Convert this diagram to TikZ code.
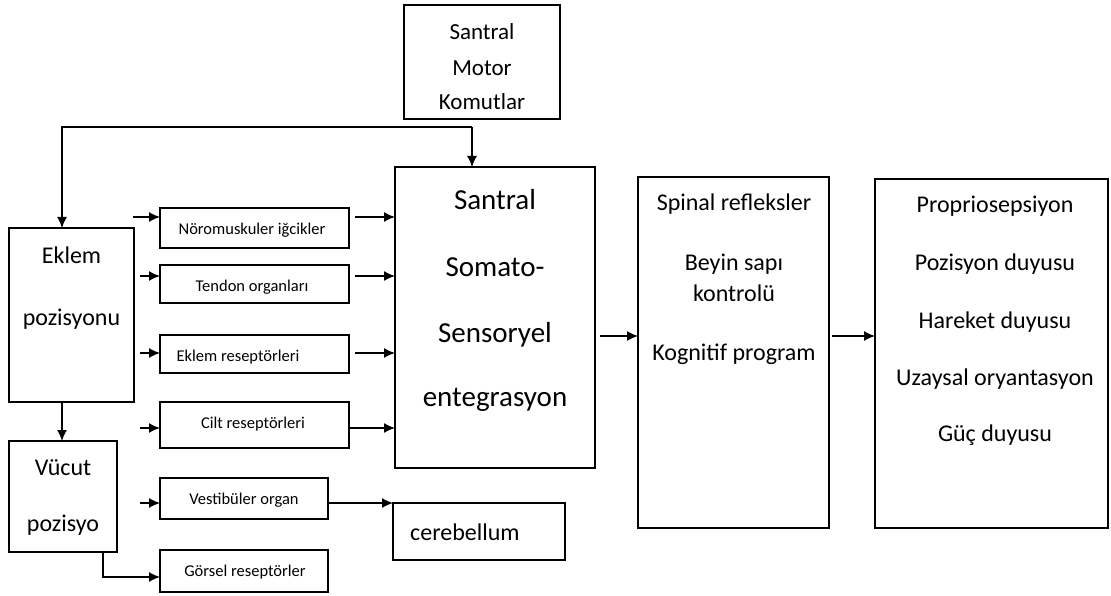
\documentclass[tikz,border=0pt]{standalone}
\usepackage{fontspec}
\setmainfont{Carlito}
\usetikzlibrary{arrows.meta}
\begin{document}
\begin{tikzpicture}[x=1pt,y=-1pt,
  box/.style={draw, line width=1.3pt, inner sep=0pt, outer sep=0pt},
  arr/.style={line width=1.3pt, -{Latex[length=11pt,width=10pt]}},
  sm/.style={inner sep=0pt, text height=10.7pt, text depth=2.5pt, font=\fontsize{16.5}{19}\selectfont, yshift=-2pt},
  md/.style={inner sep=0pt, text height=15pt, text depth=3.4pt, font=\fontsize{23}{27}\selectfont, yshift=-2pt},
  lg/.style={inner sep=0pt, text height=15.6pt, text depth=3.6pt, font=\fontsize{24}{28}\selectfont, yshift=-2pt},
  xl/.style={inner sep=0pt, text height=18.8pt, text depth=4.3pt, font=\fontsize{29}{33}\selectfont, yshift=-2pt}]
\useasboundingbox (0,0) rectangle (1111,596);
% boxes
\node[box, minimum width=156, minimum height=114] (motor) at (482,62) {};
\node[box, minimum width=200, minimum height=301] (central) at (495,317.5) {};
\node[box, minimum width=191, minimum height=351] (spinal) at (733.5,352.5) {};
\node[box, minimum width=233, minimum height=349] (proprio) at (991.5,353.5) {};
\node[box, minimum width=125, minimum height=174] (eklem) at (71.5,315) {};
\node[box, minimum width=108, minimum height=111] (vucut) at (63,496.5) {};
\node[box, minimum width=189, minimum height=40] (noro) at (254.5,228) {};
\node[box, minimum width=189, minimum height=38] (tendon) at (254.5,284) {};
\node[box, minimum width=189, minimum height=38] (eklemrec) at (254.5,354) {};
\node[box, minimum width=189, minimum height=46] (cilt) at (254.5,425) {};
\node[box, minimum width=168, minimum height=41] (vestib) at (244,498.5) {};
\node[box, minimum width=168, minimum height=42] (gorsel) at (244,571) {};
\node[box, minimum width=172, minimum height=57] (cereb) at (479,531.5) {};
% texts
\node[md] (t1) at (482,32) {Santral};
\node[md] (t2) at (482,68) {Motor};
\node[md] (t3) at (482,102) {Komutlar};
\node[xl] (c1) at (495,200) {Santral};
\node[xl] (c2) at (495,267) {Somato-};
\node[xl] (c3) at (495,333) {Sensoryel};
\node[xl] (c4) at (495,397) {entegrasyon};
\node[lg] (s1) at (734,203) {Spinal refleksler};
\node[lg] (s2) at (734,262) {Beyin sapı};
\node[lg] (s3) at (734,293) {kontrolü};
\node[lg] (s4) at (734,352) {Kognitif program};
\node[lg] (p1) at (995,205) {Propriosepsiyon};
\node[lg] (p2) at (995,262) {Pozisyon duyusu};
\node[lg] (p3) at (995,320) {Hareket duyusu};
\node[lg] (p4) at (995,377) {Uzaysal oryantasyon};
\node[lg] (p5) at (995,433) {Güç duyusu};
\node[lg] (e1) at (71.5,255) {Eklem};
\node[lg] (e2) at (71.5,317) {pozisyonu};
\node[lg] (v1) at (63,467) {Vücut};
\node[lg] (v2) at (63,523) {pozisyo};
\node[sm] (n1) at (252,228) {Nöromuskuler iğcikler};
\node[sm] (n2) at (252,285) {Tendon organları};
\node[sm] (n3) at (238,355) {Eklem reseptörleri};
\node[sm] (n4) at (253,422) {Cilt reseptörleri};
\node[sm] (n5) at (244,498) {Vestibüler organ};
\node[sm] (n6) at (245,570) {Görsel reseptörler};
\node[lg, anchor=west] (cb) at (410,532) {cerebellum};
% connectors
\coordinate (fbL) at (62,127);
\coordinate (fbR) at (472,127);
\draw[arr] (fbR) -- (fbL) -- (fbL |- eklem.north);
\draw[arr] (fbR) -- (fbR |- central.north);
\draw[arr] (fbL |- eklem.south) -- (fbL |- vucut.north);
\coordinate (in1) at (133,217);
\coordinate (in2) at (140,276);
\coordinate (in3) at (140,353);
\coordinate (in4) at (140,428);
\coordinate (in5) at (140,503);
\draw[arr] (in1) -- (in1 -| noro.west);
\draw[arr] (in2) -- (in2 -| tendon.west);
\draw[arr] (in3) -- (in3 -| eklemrec.west);
\draw[arr] (in4) -- (in4 -| cilt.west);
\draw[arr] (in5) -- (in5 -| vestib.west);
\coordinate (o1) at (355,217);
\coordinate (o2) at (355,276);
\coordinate (o3) at (355,353);
\draw[arr] (o1) -- (o1 -| central.west);
\draw[arr] (o2) -- (o2 -| central.west);
\draw[arr] (o3) -- (o3 -| central.west);
\draw[arr] (in4 -| cilt.east) -- (in4 -| central.west);
\draw[arr] (in5 -| vestib.east) -- (in5 -| cereb.west);
\coordinate (gv) at (103,577);
\draw[arr] (gv |- vucut.south) -- (gv) -- (gv -| gorsel.west);
\coordinate (m1) at (600,336);
\coordinate (m2) at (832,336);
\draw[arr] (m1) -- (m1 -| spinal.west);
\draw[arr] (m2) -- (m2 -| proprio.west);
\end{tikzpicture}
\end{document}
